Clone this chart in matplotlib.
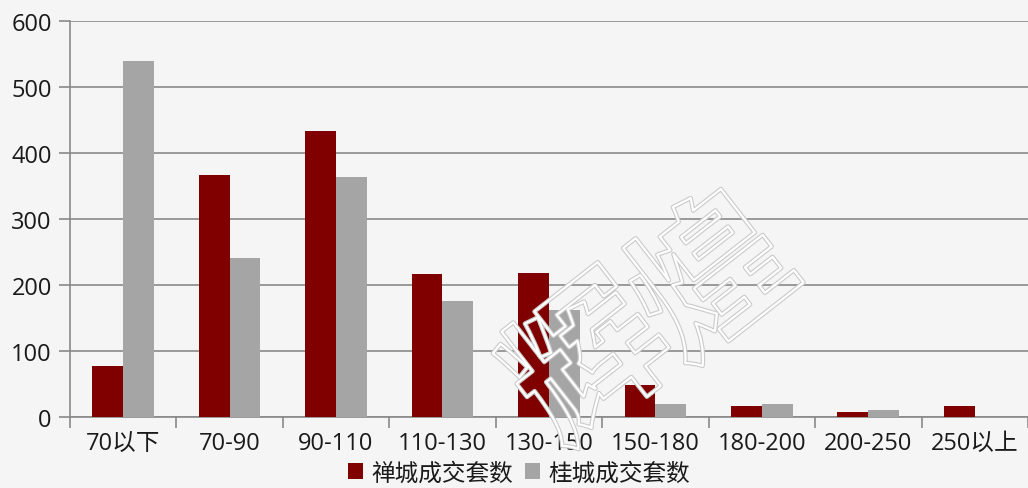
import matplotlib
matplotlib.use("Agg")
import matplotlib.pyplot as plt
import matplotlib.patheffects as pe
import numpy as np

plt.rcParams['font.family'] = ['Open Sans', 'Noto Sans CJK SC', 'DejaVu Sans']

categories = ['70以下', '70-90', '90-110', '110-130', '130-150',
              '150-180', '180-200', '200-250', '250以上']
chancheng = [77, 367, 433, 217, 218, 49, 16, 7, 16]
guicheng = [539, 241, 364, 176, 162, 20, 19, 10, 0]
series_names = ['禅城成交套数', '桂城成交套数']
yticks = [0, 100, 200, 300, 400, 500, 600]

bg = '#f5f5f5'
red = '#800000'
gray = '#a5a5a5'
line_gray = '#8a8a8a'
text_col = '#1a1a1a'

fig = plt.figure(figsize=(10.28, 4.89), dpi=100, facecolor=bg)
ax = fig.add_axes([0.068, 0.1452, 0.932, 0.81], facecolor=bg)

x = np.arange(len(categories))
w = 0.29
ax.bar(x - w / 2, chancheng, width=w, color=red, label=series_names[0], zorder=3)
ax.bar(x + w / 2, guicheng, width=w, color=gray, label=series_names[1], zorder=3)

ax.set_xlim(-0.5, len(categories) - 0.5)
ax.set_ylim(0, 600)
ax.set_yticks(yticks)
ax.set_yticklabels([str(v) for v in yticks])
ax.yaxis.grid(True, color=line_gray, linewidth=1.2, zorder=0)
ax.set_axisbelow(True)

# category labels centred, tick marks on category boundaries
ax.set_xticks(x)
ax.set_xticklabels(categories)
ax.set_xticks(np.arange(len(categories) + 1) - 0.5, minor=True)
ax.tick_params(axis='x', which='major', length=0, pad=10, labelsize=17, labelcolor=text_col)
ax.tick_params(axis='x', which='minor', length=8, width=1.2, color=line_gray, direction='out')
ax.tick_params(axis='y', length=8, width=1.2, color=line_gray, pad=5, labelsize=17, labelcolor=text_col)

for side in ['top', 'right']:
    ax.spines[side].set_visible(False)
for side in ['left', 'bottom']:
    ax.spines[side].set_color(line_gray)
    ax.spines[side].set_linewidth(1.2)

fig.legend(loc='center', bbox_to_anchor=(0.505, 0.03), ncol=2, frameon=False,
           fontsize=17, handlelength=0.65, handleheight=0.65, handletextpad=0.35,
           columnspacing=0.5, labelcolor=text_col, borderpad=0.1)

# hollow outlined watermark (transparent fill, white stroke with grey rim)
for ch, (cx, cy) in zip('辉煌', [(0.576, 0.25), (0.695, 0.42)]):
    fig.text(cx, cy, ch, fontsize=110, rotation=38, ha='center', va='center',
             color=(1, 1, 1, 0), zorder=10, fontweight='bold',
             family=['Noto Sans CJK SC'],
             path_effects=[pe.Stroke(linewidth=3.2, foreground='#cacaca'),
                           pe.Stroke(linewidth=1.6, foreground='white')])

fig.savefig('out.png', dpi=100, facecolor=bg)
